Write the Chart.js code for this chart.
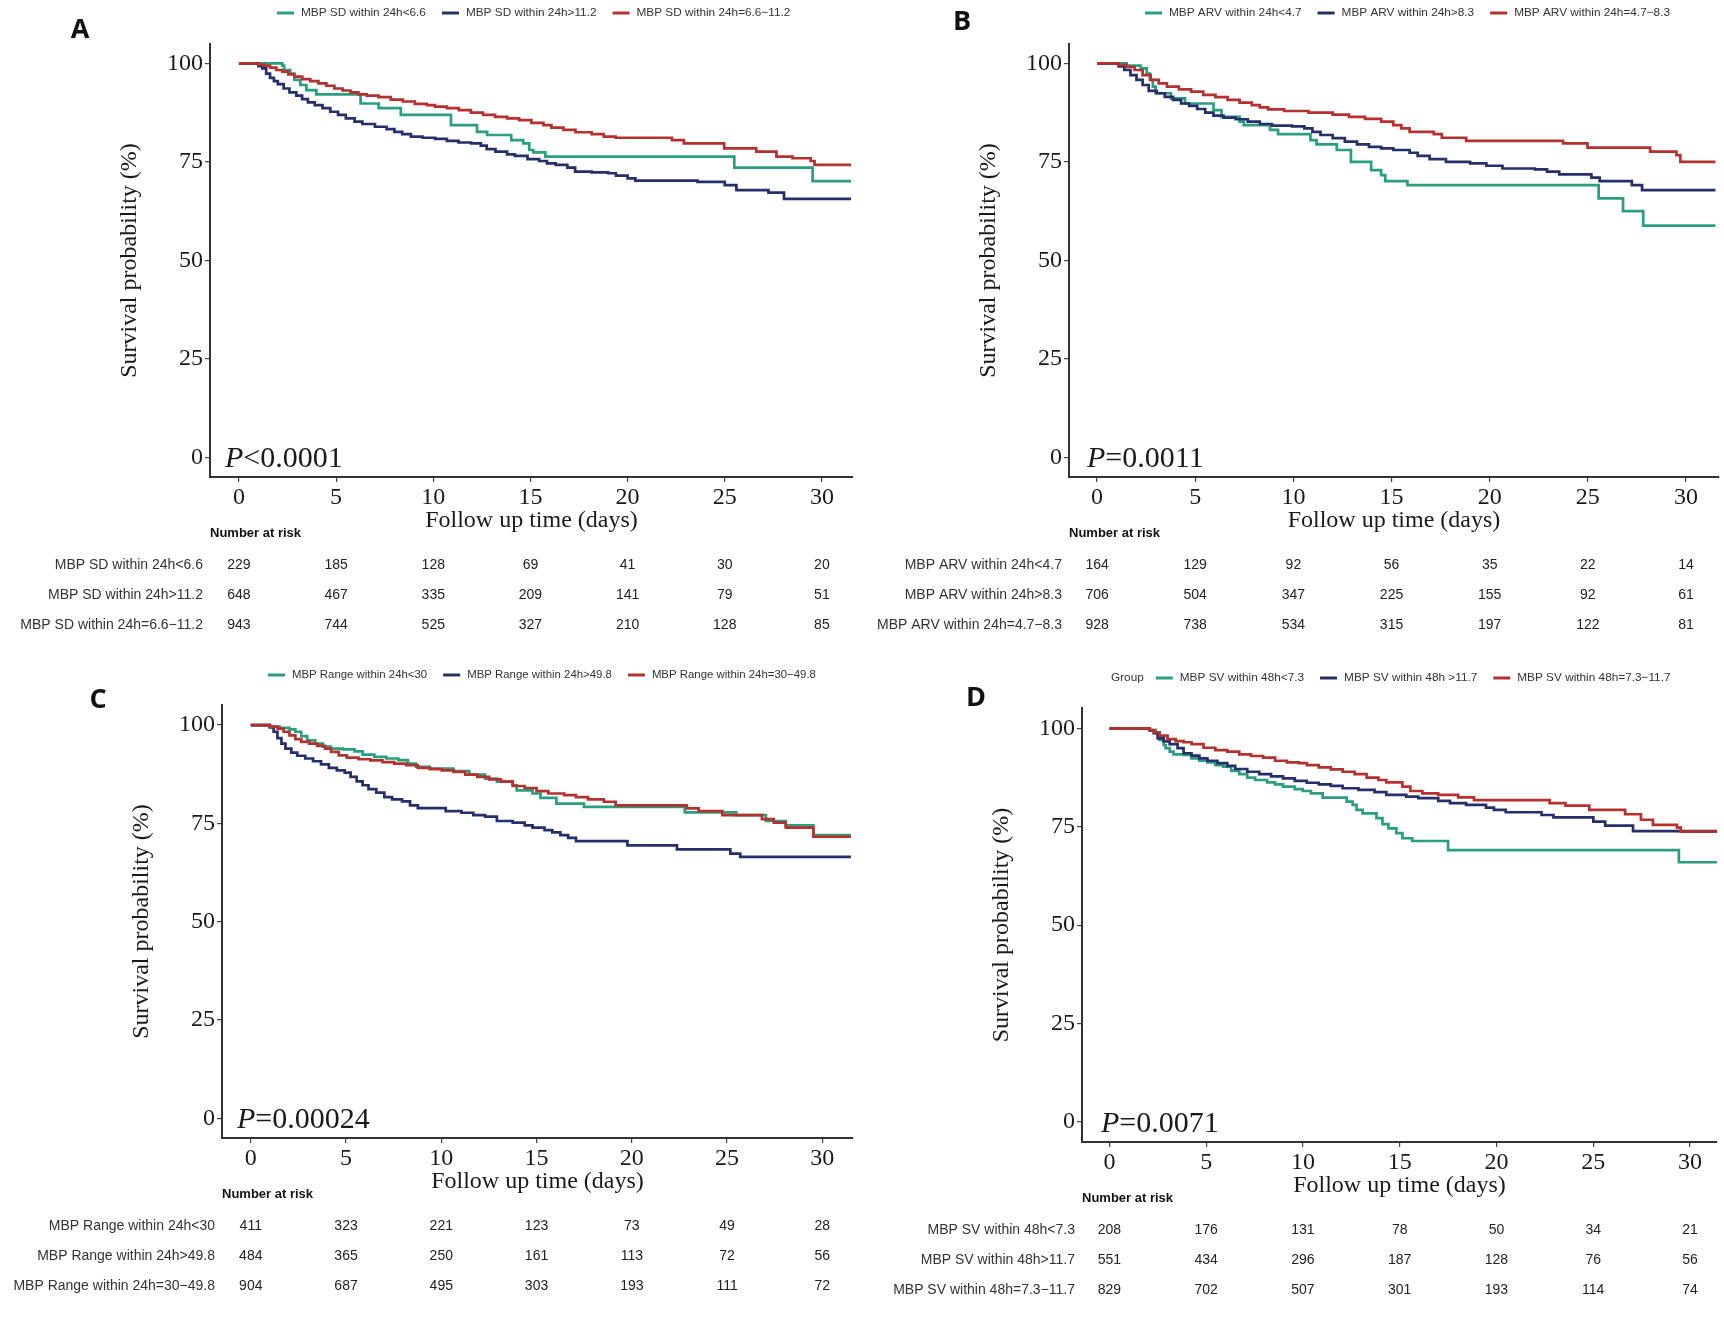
<!DOCTYPE html>
<html>
<head>
<meta charset="utf-8">
<script src="https://cdn.jsdelivr.net/npm/chart.js@4.4.1/dist/chart.umd.min.js"></script>
<style>
  html, body { margin: 0; padding: 0; background: #fff; }
  #wrap { position: relative; width: 1724px; height: 1318px; overflow: hidden; }
  canvas { position: absolute; }
</style>
</head>
<body>
<div id="wrap">
  <canvas id="panelA" width="862" height="650" style="left:0;top:0"></canvas>
  <canvas id="panelB" width="862" height="650" style="left:862px;top:0"></canvas>
  <canvas id="panelC" width="862" height="668" style="left:0;top:650px"></canvas>
  <canvas id="panelD" width="862" height="668" style="left:862px;top:650px"></canvas>
</div>
<script>
// shared axes
const timeTicks = [0, 5, 10, 15, 20, 25, 30];
const survTicks = [0, 25, 50, 75, 100];
const groupColors = ['#2a9e7e', '#25306a', '#b5312f'];

// A - MBP SD
const sdGroups = ['MBP SD within 24h<6.6', 'MBP SD within 24h>11.2', 'MBP SD within 24h=6.6\u221211.2'];
const sdLow = [[0,100],[2.23,99.4],[2.33,98.3],[2.64,97.4],[2.85,95.8],[3.16,94.5],[3.47,93.2],[3.98,92.1],[6.26,89.8],[7.19,88.6],[8.33,86.9],[10.91,84.3],[12.25,82.6],[12.77,81.8],[14.01,80.5],[14.63,79.7],[14.94,78.0],[15.15,77.4],[15.77,76.3],[25.49,73.5],[29.52,70.1],[31.5,70.1]];
const sdHigh = [[0,100],[1.0,99.3],[1.2,98.7],[1.4,97.4],[1.6,96.3],[1.8,95.5],[2.0,94.7],[2.3,93.6],[2.6,92.6],[2.95,91.8],[3.25,90.9],[3.55,90.1],[3.9,89.4],[4.3,88.6],[4.7,87.7],[5.1,86.9],[5.5,86.0],[5.95,85.2],[6.35,84.6],[7.0,83.9],[7.6,83.3],[8.0,82.6],[8.4,82.0],[8.85,81.4],[9.45,81.1],[10.1,80.8],[10.7,80.3],[11.3,79.9],[11.95,79.7],[12.45,79.1],[12.75,78.2],[13.2,77.6],[13.8,76.9],[14.2,76.5],[14.85,75.7],[15.45,75.2],[15.85,74.6],[16.3,74.2],[16.9,73.5],[17.3,72.5],[18.15,72.3],[19.0,72.1],[19.4,71.5],[20.0,70.8],[20.4,70.2],[23.6,69.9],[25.0,69.1],[25.6,67.8],[27.25,67.2],[28.05,65.6],[31.5,65.6]];
const sdMid = [[0,100],[1.0,99.7],[1.29,99.4],[1.6,98.9],[1.92,98.3],[2.23,97.9],[2.54,97.2],[2.85,96.6],[3.26,96.0],[3.67,95.5],[4.09,94.9],[4.5,94.3],[4.91,93.6],[5.33,93.1],[5.74,92.6],[6.15,92.1],[6.57,91.8],[7.19,91.4],[7.81,90.8],[8.43,90.3],[9.05,89.7],[9.67,89.4],[10.08,89.0],[10.7,88.6],[11.32,88.1],[11.94,87.5],[12.56,86.9],[13.18,86.4],[13.8,86.0],[14.42,85.6],[15.05,84.9],[15.67,84.3],[16.08,83.7],[16.7,83.1],[17.32,82.5],[18.15,82.0],[18.77,81.4],[19.39,81.1],[22.28,80.5],[22.9,79.7],[24.97,78.4],[26.62,77.6],[27.66,76.3],[28.49,75.9],[29.42,75.2],[29.62,74.2],[31.5,74.2]];
const sdRiskLow = [229, 185, 128, 69, 41, 30, 20];
const sdRiskHigh = [648, 467, 335, 209, 141, 79, 51];
const sdRiskMid = [943, 744, 525, 327, 210, 128, 85];

// B - MBP ARV
const arvGroups = ['MBP ARV within 24h<4.7', 'MBP ARV within 24h>8.3', 'MBP ARV within 24h=4.7\u22128.3'];
const arvLow = [[0,100],[1.5,99.4],[2.22,98.7],[2.53,97.4],[2.69,95.8],[2.84,94.1],[2.98,92.4],[3.76,91.1],[4.48,89.8],[5.93,88.1],[6.34,86.4],[7.26,85.2],[7.47,84.3],[8.81,83.1],[9.22,82.0],[10.87,80.5],[11.18,79.4],[12.21,78.0],[12.93,75.0],[13.96,72.9],[14.47,71.6],[14.68,70.1],[15.81,69.1],[25.55,65.7],[26.79,62.5],[27.82,58.8],[31.5,58.8]];
const arvHigh = [[0,100],[1.1,99.2],[1.39,98.3],[1.7,97.0],[2.01,95.8],[2.32,94.5],[2.63,93.0],[3.04,92.4],[3.45,91.5],[3.87,90.7],[4.28,89.8],[4.69,89.2],[5.1,88.4],[5.51,87.5],[5.93,86.7],[6.44,86.2],[7.06,85.8],[7.68,85.2],[8.29,84.6],[8.91,84.2],[9.94,84.0],[10.56,83.5],[10.97,82.6],[11.38,81.8],[12.0,81.0],[12.62,80.1],[13.24,79.4],[13.85,78.8],[14.47,78.4],[15.09,78.0],[15.92,77.3],[16.33,76.5],[16.94,75.7],[17.77,75.0],[19.0,74.6],[19.83,74.0],[20.65,73.3],[22.3,73.1],[22.92,72.5],[23.54,71.8],[25.18,71.0],[25.6,70.1],[27.24,69.1],[27.76,67.8],[31.5,67.8]];
const arvMid = [[0,100],[1.08,99.6],[1.5,99.1],[1.91,98.3],[2.32,97.0],[2.73,95.8],[3.14,94.9],[3.56,94.1],[4.17,93.4],[4.79,92.8],[5.41,92.0],[6.03,91.4],[6.65,90.7],[7.26,90.0],[7.88,89.4],[8.29,88.8],[8.71,88.3],[9.53,87.9],[10.77,87.5],[12.0,87.0],[12.83,86.4],[13.65,85.9],[14.47,85.2],[15.09,84.3],[15.5,83.5],[15.92,82.6],[17.15,82.0],[17.56,81.1],[18.8,80.3],[23.74,79.7],[24.98,78.6],[28.17,77.6],[29.51,76.7],[29.71,75.0],[31.5,75.0]];
const arvRiskLow = [164, 129, 92, 56, 35, 22, 14];
const arvRiskHigh = [706, 504, 347, 225, 155, 92, 61];
const arvRiskMid = [928, 738, 534, 315, 197, 122, 81];

// C - MBP Range
const rangeGroups = ['MBP Range within 24h<30', 'MBP Range within 24h>49.8', 'MBP Range within 24h=30\u221249.8'];
const rangeLow = [[0,100],[1.0,99.6],[1.51,99.3],[2.03,98.9],[2.34,98.3],[2.65,97.2],[2.96,96.1],[3.38,95.3],[3.79,94.5],[4.21,94.0],[4.83,93.8],[5.45,93.3],[5.87,92.5],[6.49,91.9],[7.11,91.5],[7.74,91.1],[8.25,90.2],[8.67,89.4],[9.4,88.9],[10.64,88.3],[11.47,87.4],[12.3,86.4],[12.92,85.6],[13.75,84.7],[13.96,83.4],[14.79,82.6],[15.21,81.5],[16.04,80.0],[17.49,79.2],[22.78,77.8],[25.48,77.1],[27.04,75.6],[28.08,74.5],[29.53,72.0],[31.5,72.0]];
const rangeHigh = [[0,100],[1.0,99.4],[1.2,98.3],[1.4,96.7],[1.61,95.3],[1.82,94.0],[2.13,93.0],[2.44,92.2],[2.86,91.5],[3.27,90.8],[3.69,90.0],[4.1,89.1],[4.52,88.5],[4.93,87.9],[5.24,86.8],[5.56,85.7],[5.87,84.7],[6.18,83.7],[6.59,82.8],[7.01,81.7],[7.42,81.1],[7.94,80.6],[8.36,79.6],[8.77,78.9],[10.23,78.1],[11.06,77.7],[11.68,77.1],[12.3,76.7],[12.92,75.6],[13.75,75.2],[14.38,74.5],[14.79,73.9],[15.42,73.3],[15.83,72.7],[16.25,72.0],[16.66,71.3],[17.07,70.5],[19.77,69.4],[22.37,68.4],[25.17,67.3],[25.69,66.5],[31.5,66.5]];
const rangeMid = [[0,100],[1.0,99.6],[1.41,99.1],[1.72,98.3],[2.03,97.4],[2.34,96.4],[2.65,95.7],[3.07,95.3],[3.48,94.7],[3.9,94.0],[4.21,93.2],[4.62,92.3],[5.04,91.7],[5.66,91.3],[6.28,91.0],[6.91,90.6],[7.53,90.2],[8.15,89.8],[8.77,89.1],[9.4,88.8],[10.02,88.5],[10.64,88.1],[11.26,87.4],[11.89,86.8],[12.51,86.2],[13.13,85.6],[13.75,84.5],[14.38,84.0],[15.0,83.2],[15.62,82.6],[16.45,82.2],[17.07,81.7],[17.7,81.1],[18.53,80.5],[19.15,79.6],[22.89,78.8],[23.51,78.1],[24.75,77.1],[26.83,76.1],[27.45,75.2],[28.08,73.9],[29.53,71.6],[31.5,71.6]];
const rangeRiskLow = [411, 323, 221, 123, 73, 49, 28];
const rangeRiskHigh = [484, 365, 250, 161, 113, 72, 56];
const rangeRiskMid = [904, 687, 495, 303, 193, 111, 72];

// D - MBP SV
const svGroups = ['MBP SV within 48h<7.3', 'MBP SV within 48h >11.7', 'MBP SV within 48h=7.3\u221211.7'];
const svRowLabels = ['MBP SV within 48h<7.3', 'MBP SV within 48h>11.7', 'MBP SV within 48h=7.3\u221211.7'];
const svLow = [[0,100],[2.08,99.6],[2.39,98.8],[2.59,97.1],[2.8,95.8],[2.9,95.0],[3.11,94.1],[3.31,93.4],[3.83,93.3],[4.24,92.4],[4.65,91.8],[5.06,91.4],[5.47,90.7],[5.88,90.3],[6.29,89.2],[6.71,88.4],[7.12,87.5],[7.53,86.9],[8.15,86.3],[8.56,85.8],[8.97,85.2],[9.58,84.6],[9.99,84.1],[10.41,83.5],[11.02,82.4],[12.26,81.4],[12.57,80.6],[12.77,79.3],[13.08,78.4],[13.8,77.2],[14.11,75.7],[14.42,74.6],[14.83,73.4],[15.14,72.1],[15.65,71.4],[17.5,69.1],[29.43,66.0],[31.5,66.0]];
const svHigh = [[0,100],[2.08,99.5],[2.29,98.8],[2.49,97.5],[2.8,96.7],[3.11,96.0],[3.52,95.0],[3.83,93.7],[4.24,93.1],[4.65,92.4],[5.06,91.8],[5.58,91.2],[6.09,90.5],[6.5,89.7],[7.12,89.0],[7.74,88.4],[8.35,87.8],[8.97,87.3],[9.58,86.7],[10.2,86.2],[10.82,85.8],[11.44,85.4],[12.05,84.8],[12.87,84.4],[13.7,83.8],[14.31,83.1],[15.34,82.7],[15.96,82.3],[16.99,81.6],[17.6,81.0],[18.43,80.6],[19.46,79.9],[19.87,79.3],[20.48,78.7],[22.33,78.0],[22.95,77.4],[25.01,76.3],[25.62,75.3],[27.06,73.9],[31.5,73.9]];
const svMid = [[0,100],[2.08,99.6],[2.29,99.0],[2.59,98.2],[3.0,97.3],[3.42,96.8],[3.83,96.5],[4.24,96.0],[4.86,95.1],[5.47,94.5],[6.09,94.1],[6.71,93.4],[7.32,93.0],[7.94,92.6],[8.56,91.8],[9.17,91.4],[9.79,91.2],[10.2,90.7],[10.82,90.1],[11.44,89.6],[12.05,89.0],[12.67,88.4],[13.29,87.5],[13.9,86.9],[14.31,86.3],[15.14,85.2],[15.55,84.1],[16.17,83.5],[16.99,83.1],[18.02,82.5],[18.84,81.8],[22.75,81.0],[23.57,80.4],[24.8,79.3],[26.65,78.2],[27.47,76.8],[28.09,75.5],[29.33,74.8],[29.53,73.8],[31.5,73.8]];
const svRiskLow = [208, 176, 131, 78, 50, 34, 21];
const svRiskHigh = [551, 434, 296, 187, 128, 76, 56];
const svRiskMid = [829, 702, 507, 301, 193, 114, 74];

// letters, legends, titles, p-value and risk table drawn on top of each chart
function kmExtras(p) {
  return {
    id: 'kmExtras',
    afterDraw(chart) {
      const ctx = chart.ctx, a = chart.chartArea, xs = chart.scales.x, ys = chart.scales.y;
      ctx.save();
      ctx.textBaseline = 'middle';

      ctx.fillStyle = '#111';
      ctx.font = 'bold 27px "Open Sans"';
      ctx.textAlign = 'center';
      ctx.fillText(p.letter, p.letterPos[0], p.letterPos[1]);

      ctx.font = (p.legendSize || 11.8) + 'px "Liberation Sans"';
      ctx.textAlign = 'left';
      let x = p.legendPos[0];
      const ly = p.legendPos[1];
      if (p.legendTitle) {
        ctx.fillStyle = '#333';
        ctx.fillText(p.legendTitle, x, ly);
        x += ctx.measureText(p.legendTitle).width + 12;
      }
      p.groups.forEach((g, i) => {
        ctx.strokeStyle = groupColors[i];
        ctx.lineWidth = 3;
        ctx.beginPath(); ctx.moveTo(x, ly); ctx.lineTo(x + 17, ly); ctx.stroke();
        x += 24;
        ctx.fillStyle = '#333';
        ctx.fillText(g, x, ly);
        x += ctx.measureText(g).width + 16;
      });

      ctx.fillStyle = '#1a1a1a';
      ctx.font = '24px "Liberation Serif"';
      ctx.textAlign = 'center';
      ctx.fillText('Follow up time (days)', (a.left + a.right) / 2, a.bottom + 44);
      ctx.save();
      ctx.translate(a.left - 80, (a.top + a.bottom) / 2);
      ctx.rotate(-Math.PI / 2);
      ctx.fillText('Survival probability (%)', 0, 0);
      ctx.restore();

      // p value
      const py = ys.getPixelForValue(0) + 10;
      const px = a.left + p.pOffset;
      ctx.textAlign = 'left';
      ctx.textBaseline = 'alphabetic';
      ctx.font = 'italic 30px "Liberation Serif"';
      ctx.fillText('P', px, py);
      const pw = ctx.measureText('P').width;
      ctx.font = '30px "Liberation Serif"';
      ctx.fillText(p.pText, px + pw, py);

      // number at risk
      ctx.textBaseline = 'middle';
      ctx.fillStyle = '#111';
      ctx.font = 'bold 13px "Liberation Sans"';
      ctx.fillText('Number at risk', a.left, a.bottom + 56);
      ctx.font = '14px "Liberation Sans"';
      p.risk.forEach((row, r) => {
        const y = a.bottom + 88 + 30 * r;
        ctx.fillStyle = '#333';
        ctx.textAlign = 'right';
        ctx.fillText(p.rowLabels[r], a.left - 7, y);
        ctx.fillStyle = '#222';
        ctx.textAlign = 'center';
        row.forEach((n, k) => ctx.fillText(String(n), xs.getPixelForValue(timeTicks[k]), y));
      });
      ctx.restore();
    }
  };
}

function drawPanel(id, p) {
  const canvas = document.getElementById(id);
  const W = canvas.width, H = canvas.height;
  const tickFont = { family: '"Liberation Serif"', size: 24 };
  new Chart(canvas, {
    type: 'line',
    data: {
      datasets: p.series.map((s, i) => ({
        label: p.groups[i],
        data: s.map(d => ({ x: d[0], y: d[1] })),
        borderColor: groupColors[i],
        borderWidth: 2.7,
        pointRadius: 0,
        stepped: true,
        fill: false,
        order: 2 - i
      }))
    },
    options: {
      responsive: false,
      animation: false,
      devicePixelRatio: 1,
      layout: { padding: { left: 0, top: p.area.top, right: W - p.area.right, bottom: 0 } },
      plugins: { legend: { display: false }, tooltip: { enabled: false } },
      scales: {
        x: {
          type: 'linear', min: p.xRange[0], max: p.xRange[1],
          afterBuildTicks: s => { s.ticks = timeTicks.map(v => ({ value: v })); },
          afterFit: s => { s.height = H - p.area.bottom; },
          ticks: { font: tickFont, color: '#1a1a1a', padding: 1, maxRotation: 0, autoSkip: false },
          grid: { display: true, drawOnChartArea: false, drawTicks: true, tickLength: 5, color: '#444', lineWidth: 1.2 },
          border: { display: true, color: '#333', width: 2 }
        },
        y: {
          type: 'linear', min: p.yRange[0], max: p.yRange[1],
          afterBuildTicks: s => { s.ticks = survTicks.map(v => ({ value: v })); },
          afterFit: s => { s.width = p.area.left; },
          ticks: { font: tickFont, color: '#1a1a1a', padding: 2, autoSkip: false },
          grid: { display: true, drawOnChartArea: false, drawTicks: true, tickLength: 5, color: '#444', lineWidth: 1.2 },
          border: { display: true, color: '#333', width: 2 }
        }
      }
    },
    plugins: [kmExtras(p)]
  });
}

drawPanel('panelA', {
  letter: 'A', letterPos: [80, 30], legendPos: [277, 13],
  groups: sdGroups, rowLabels: sdGroups,
  series: [sdLow, sdHigh, sdMid], risk: [sdRiskLow, sdRiskHigh, sdRiskMid],
  pText: '<0.0001', pOffset: 15,
  area: { left: 210, right: 853, top: 44, bottom: 477 },
  xRange: [-1.49, 31.6], yRange: [-5, 104.9]
});
drawPanel('panelB', {
  letter: 'B', letterPos: [100, 22], legendPos: [283, 13],
  groups: arvGroups, rowLabels: arvGroups,
  series: [arvLow, arvHigh, arvMid], risk: [arvRiskLow, arvRiskHigh, arvRiskMid],
  pText: '=0.0011', pOffset: 18,
  area: { left: 207, right: 857, top: 44, bottom: 477 },
  xRange: [-1.43, 31.68], yRange: [-5, 104.9]
});
drawPanel('panelC', {
  letter: 'C', letterPos: [98, 50], legendPos: [268, 25], legendSize: 11.4,
  groups: rangeGroups, rowLabels: rangeGroups,
  series: [rangeLow, rangeHigh, rangeMid], risk: [rangeRiskLow, rangeRiskHigh, rangeRiskMid],
  pText: '=0.00024', pOffset: 15,
  area: { left: 222, right: 853, top: 55, bottom: 488 },
  xRange: [-1.51, 31.61], yRange: [-5, 105.1]
});
drawPanel('panelD', {
  letter: 'D', letterPos: [114, 48], legendPos: [249, 28], legendTitle: 'Group',
  groups: svGroups, rowLabels: svRowLabels,
  series: [svLow, svHigh, svMid], risk: [svRiskLow, svRiskHigh, svRiskMid],
  pText: '=0.0071', pOffset: 19,
  area: { left: 220, right: 855, top: 58, bottom: 492 },
  xRange: [-1.42, 31.4], yRange: [-5.1, 105.2]
});
</script>
</body>
</html>
